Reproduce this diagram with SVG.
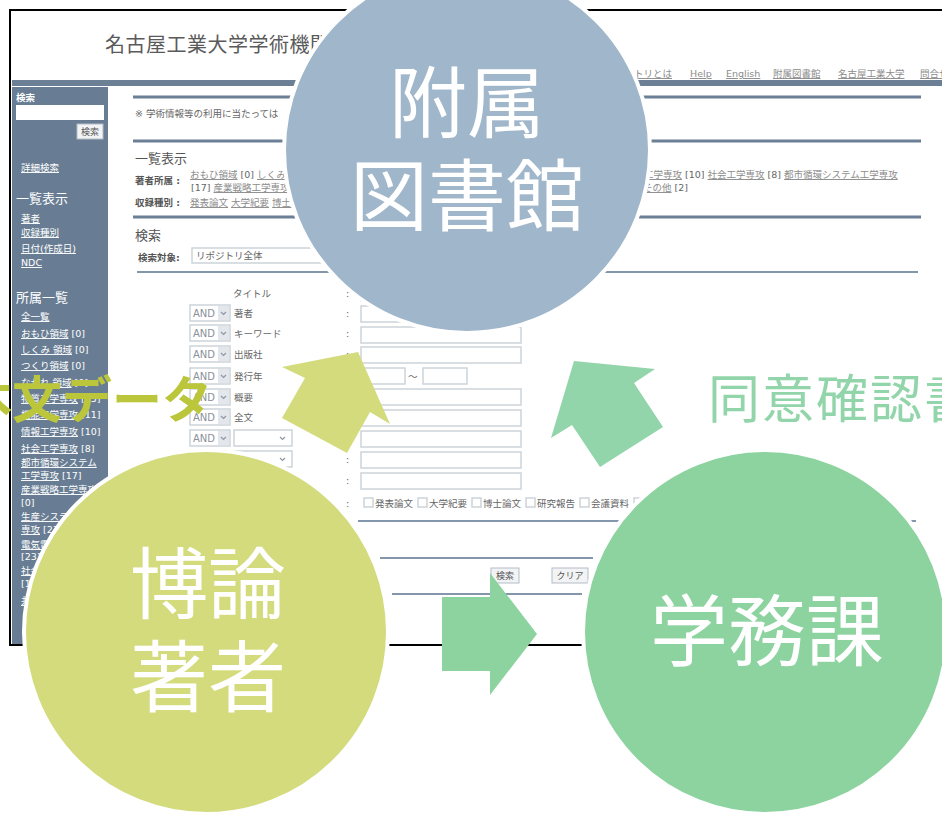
<svg xmlns="http://www.w3.org/2000/svg" width="942" height="814" viewBox="0 0 942 814">
<style>
text { font-family: "DejaVu Sans", "Noto Sans CJK JP", sans-serif; }
.jp { font-family: "Noto Sans CJK JP", sans-serif; }
.sb { font-size: 9.5px; fill: #fff; }
.sbh { font-size: 13px; fill: #fff; font-family: "Noto Sans CJK JP", sans-serif; }
.u { text-decoration: underline; }
.ct { font-size: 9.5px; fill: #666; }
.b { font-weight: bold; fill: #555; }
.lk { fill: #8c8c8c; text-decoration: underline; }
.nav { font-size: 9.5px; fill: #8c8c8c; text-decoration: underline; }
.h { font-size: 13px; fill: #555; font-family: "Noto Sans CJK JP", sans-serif; }
.ln { stroke: #6b7f95; stroke-width: 3; }
.tln { stroke: #8396ab; stroke-width: 2; }
.box { fill: #fff; stroke: #cdd3da; stroke-width: 1.5; }
.dd { fill: #e3e7ec; }
.chev { fill: none; stroke: #8e98a4; stroke-width: 1.2; }
.andt { font-size: 10px; fill: #8a9099; }
.btn { fill: #f2f3f5; stroke: #b5bcc5; stroke-width: 1; }
.big { font-family: "Noto Sans CJK JP", sans-serif; font-size: 78px; fill: #fff; text-anchor: middle; }
.node circle { stroke: #fff; stroke-width: 4; }
</style>
<rect width="942" height="814" fill="#fff"/>
<g id="screenshot">
  <rect x="10" y="10" width="940" height="635" fill="#fff" stroke="#000" stroke-width="2"/>
  <text x="105" y="52" class="jp" font-size="20" fill="#5a5a5a" letter-spacing="0.5">名古屋工業大学学術機関リポジトリ</text>
  <text x="672" y="77" class="nav" text-anchor="end">リポジトリとは</text>
  <text x="690" y="77" class="nav">Help</text>
  <text x="726" y="77" class="nav">English</text>
  <text x="773" y="77" class="nav">附属図書館</text>
  <text x="838" y="77" class="nav">名古屋工業大学</text>
  <text x="920" y="77" class="nav">問合せ</text>
  <rect x="12" y="80" width="930" height="6" fill="#6b7f95"/>
  <rect x="12" y="87" width="96" height="557" fill="#687d93"/>
  <text x="16" y="101" class="sb" font-weight="bold">検索</text>
  <rect x="16" y="105" width="88" height="15" fill="#fff"/>
  <rect x="77" y="124" width="26" height="15" class="btn"/>
  <text x="90" y="135" font-size="9" fill="#555" text-anchor="middle">検索</text>
  <text x="21" y="171" class="sb u">詳細検索</text>
  <text x="16" y="203" class="sbh">一覧表示</text>
  <text x="21" y="222" class="sb u">著者</text>
  <text x="21" y="236" class="sb u">収録種別</text>
  <text x="21" y="252" class="sb u">日付(作成日)</text>
  <text x="21" y="266" class="sb u">NDC</text>
  <text x="16" y="302" class="sbh">所属一覧</text>
  <text x="21" y="320" class="sb u">全一覧</text>
  <text x="21" y="337" class="sb"><tspan class="u">おもひ領域</tspan> [0]</text>
  <text x="21" y="353" class="sb"><tspan class="u">しくみ 領域</tspan> [0]</text>
  <text x="21" y="369" class="sb"><tspan class="u">つくり領域</tspan> [0]</text>
  <text x="21" y="386" class="sb"><tspan class="u">ながれ 領域</tspan> [0]</text>
  <text x="21" y="402" class="sb"><tspan class="u">物質工学専攻</tspan> [15]</text>
  <text x="21" y="418" class="sb"><tspan class="u">機能工学専攻</tspan> [11]</text>
  <text x="21" y="435" class="sb"><tspan class="u">情報工学専攻</tspan> [10]</text>
  <text x="21" y="452" class="sb"><tspan class="u">社会工学専攻</tspan> [8]</text>
  <text x="21" y="466" class="sb u">都市循環システム</text>
  <text x="21" y="479" class="sb"><tspan class="u">工学専攻</tspan> [17]</text>
  <text x="21" y="493" class="sb u">産業戦略工学専攻</text>
  <text x="21" y="506" class="sb">[0]</text>
  <text x="21" y="520" class="sb u">生産システム工学</text>
  <text x="21" y="533" class="sb"><tspan class="u">専攻</tspan> [23]</text>
  <text x="21" y="548" class="sb u">電気電子工学専攻</text>
  <text x="21" y="560" class="sb">[23]</text>
  <text x="21" y="574" class="sb u">社会人博士</text>
  <text x="21" y="587" class="sb">[1]</text>
  <text x="21" y="604" class="sb u">共同専攻</text>

  <line x1="133" y1="97" x2="921" y2="97" class="ln"/>
  <text x="135" y="117" class="ct">※  学術情報等の利用に当たっては</text>
  <line x1="133" y1="141" x2="921" y2="141" class="ln"/>
  <text x="135" y="163" class="h">一覧表示</text>
  <text x="135" y="184" class="ct b">著者所属 :</text>
  <text x="190" y="178" class="ct"><tspan class="lk">おもひ領域</tspan> [0] <tspan class="lk">しくみ領域</tspan> [0]</text>
  <text x="625" y="178" class="ct"><tspan class="lk">情報工学専攻</tspan> [10] <tspan class="lk">社会工学専攻</tspan> [8] <tspan class="lk">都市循環システム工学専攻</tspan></text>
  <text x="191" y="191" class="ct">[17] <tspan class="lk">産業戦略工学専攻</tspan> [0]</text>
  <text x="643" y="191" class="ct"><tspan class="lk">その他</tspan> [2]</text>
  <text x="135" y="206" class="ct b">収録種別 :</text>
  <text x="190" y="206" class="ct"><tspan class="lk">発表論文</tspan>  <tspan class="lk">大学紀要</tspan>  <tspan class="lk">博士論文</tspan></text>
  <line x1="133" y1="217" x2="921" y2="217" class="ln"/>
  <text x="135" y="240" class="h">検索</text>
  <text x="138" y="261" class="ct b">検索対象:</text>
  <rect x="192" y="248" width="130" height="15" class="box"/>
  <text x="196" y="259" class="ct">リポジトリ全体</text>
  <line x1="137" y1="272" x2="918" y2="272" class="tln"/>

  <text x="233" y="297" class="ct">タイトル</text>
  <text x="346" y="297" class="ct">:</text>
  <rect x="361" y="285" width="160" height="16" class="box"/>

  <g id="row1"><rect x="190" y="305" width="40" height="16" class="box"/><rect x="218" y="306" width="11" height="14" class="dd"/><polyline points="221,312 223.5,314.5 226,312" class="chev"/><text x="193" y="317" class="andt">AND</text><text x="234" y="317" class="ct">著者</text><text x="346" y="317" class="ct">:</text><rect x="361" y="306" width="160" height="16" class="box"/></g>
  <g id="row2"><rect x="190" y="325" width="40" height="16" class="box"/><rect x="218" y="326" width="11" height="14" class="dd"/><polyline points="221,332 223.5,334.5 226,332" class="chev"/><text x="193" y="337" class="andt">AND</text><text x="234" y="337" class="ct">キーワード</text><text x="346" y="337" class="ct">:</text><rect x="361" y="327" width="160" height="16" class="box"/></g>
  <g id="row3"><rect x="190" y="346" width="40" height="16" class="box"/><rect x="218" y="347" width="11" height="14" class="dd"/><polyline points="221,353 223.5,355.5 226,353" class="chev"/><text x="193" y="358" class="andt">AND</text><text x="234" y="358" class="ct">出版社</text><text x="346" y="358" class="ct">:</text><rect x="361" y="347" width="160" height="16" class="box"/></g>
  <g id="row4"><rect x="190" y="368" width="40" height="16" class="box"/><rect x="218" y="369" width="11" height="14" class="dd"/><polyline points="221,375 223.5,377.5 226,375" class="chev"/><text x="193" y="380" class="andt">AND</text><text x="234" y="380" class="ct">発行年</text><text x="346" y="380" class="ct">:</text><rect x="361" y="368" width="44" height="16" class="box"/><text x="408" y="380" class="ct">～</text><rect x="423" y="368" width="44" height="16" class="box"/></g>
  <g id="row5"><rect x="190" y="389" width="40" height="16" class="box"/><rect x="218" y="390" width="11" height="14" class="dd"/><polyline points="221,396 223.5,398.5 226,396" class="chev"/><text x="193" y="401" class="andt">AND</text><text x="234" y="401" class="ct">概要</text><text x="346" y="401" class="ct">:</text><rect x="361" y="389" width="160" height="16" class="box"/></g>
  <g id="row6"><rect x="190" y="409" width="40" height="16" class="box"/><rect x="218" y="410" width="11" height="14" class="dd"/><polyline points="221,416 223.5,418.5 226,416" class="chev"/><text x="193" y="421" class="andt">AND</text><text x="234" y="421" class="ct">全文</text><text x="346" y="421" class="ct">:</text><rect x="361" y="410" width="160" height="16" class="box"/></g>
  <g id="row7"><rect x="190" y="430" width="40" height="16" class="box"/><rect x="218" y="431" width="11" height="14" class="dd"/><polyline points="221,437 223.5,439.5 226,437" class="chev"/><text x="193" y="442" class="andt">AND</text><rect x="234" y="430" width="58" height="16" class="box"/><polyline points="280,437 282.5,439.5 285,437" class="chev"/><text x="346" y="442" class="ct">:</text><rect x="361" y="431" width="160" height="16" class="box"/></g>
  <g id="row8"><rect x="190" y="451" width="40" height="16" class="box"/><rect x="218" y="452" width="11" height="14" class="dd"/><polyline points="221,458 223.5,460.5 226,458" class="chev"/><text x="193" y="463" class="andt">AND</text><rect x="234" y="451" width="58" height="16" class="box"/><polyline points="280,458 282.5,460.5 285,458" class="chev"/><text x="346" y="463" class="ct">:</text><rect x="361" y="452" width="160" height="16" class="box"/></g>
  <g id="row9"><text x="346" y="484" class="ct">:</text><rect x="361" y="473" width="160" height="16" class="box"/></g>

  <text x="346" y="507" class="ct">:</text>
  <rect x="364" y="498" width="9" height="9" class="box"/><text x="375" y="507" class="ct">発表論文</text>
  <rect x="418" y="498" width="9" height="9" class="box"/><text x="429" y="507" class="ct">大学紀要</text>
  <rect x="472" y="498" width="9" height="9" class="box"/><text x="483" y="507" class="ct">博士論文</text>
  <rect x="526" y="498" width="9" height="9" class="box"/><text x="537" y="507" class="ct">研究報告</text>
  <rect x="580" y="498" width="9" height="9" class="box"/><text x="591" y="507" class="ct">会議資料</text>
  <rect x="634" y="498" width="9" height="9" class="box"/>
  <line x1="358" y1="521" x2="916" y2="521" class="tln"/>
  <line x1="380" y1="558" x2="593" y2="558" class="tln"/>
  <rect x="491" y="568" width="28" height="15" class="btn"/>
  <text x="505" y="579" font-size="9" fill="#555" text-anchor="middle">検索</text>
  <rect x="552" y="568" width="36" height="15" class="btn"/>
  <text x="570" y="579" font-size="9" fill="#555" text-anchor="middle">クリア</text>
  <line x1="392" y1="594" x2="582" y2="594" class="tln"/>
</g>

<g id="labels">
  <text x="-38" y="418" class="jp" font-size="50" font-weight="bold" fill="#bbc63b">本文データ</text>
  <text x="708" y="418" class="jp" font-size="52" fill="#93d5aa" letter-spacing="2">同意確認書</text>
</g>

<g id="connectors">
  <polygon points="358,352 390,424 370,412 347,453 282,418 305,378 282,367" fill="#d3db7d"/>
  <polygon points="574,361 655,369 634,383 663,427 600,467 572,425 551,438" fill="#93d5aa"/>
  <polygon points="442,597 490,597 490,573 537,634 490,695 490,671 442,671" fill="#8dd3a0"/>
</g>

<g id="node-library" class="node">
  <circle cx="467" cy="150" r="183" fill="#a0b6cb"/>
  <text x="467" y="132" class="big">附属</text>
  <text x="467" y="225" class="big">図書館</text>
</g>
<g id="node-author" class="node">
  <circle cx="206" cy="632" r="182" fill="#d3db7d"/>
  <text x="208" y="613" class="big">博論</text>
  <text x="208" y="706" class="big">著者</text>
</g>
<g id="node-office" class="node">
  <circle cx="765" cy="632" r="182" fill="#8dd3a0"/>
  <text x="767" y="660" class="big">学務課</text>
</g>
</svg>
